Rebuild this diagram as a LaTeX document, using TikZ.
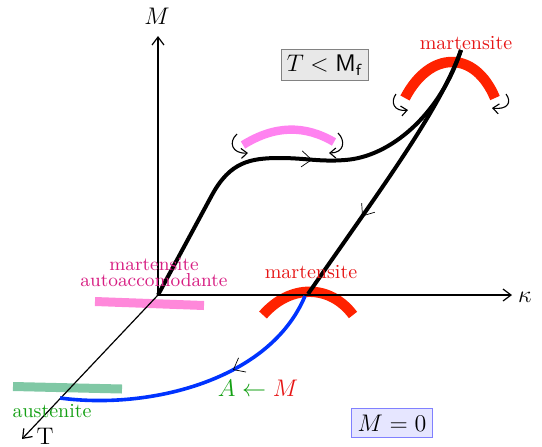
\documentclass[tikz,border=0pt]{standalone}
\usetikzlibrary{arrows.meta,decorations.markings}
\definecolor{pinkbar}{RGB}{255,136,218}
\definecolor{pinkarc}{RGB}{255,130,240}
\definecolor{magtext}{RGB}{215,30,130}
\definecolor{redarc}{RGB}{255,34,0}
\definecolor{redtext}{RGB}{230,20,20}
\definecolor{greenbar}{RGB}{128,200,165}
\definecolor{greentext}{RGB}{20,160,20}
\definecolor{bluecurve}{RGB}{0,51,255}
\definecolor{grayfill}{RGB}{232,232,232}
\definecolor{grayline}{RGB}{130,130,130}
\definecolor{lavfill}{RGB}{230,230,255}
\definecolor{lavline}{RGB}{128,128,255}
\tikzset{
  axis/.style={line width=0.6pt,-{Straight Barb[length=4pt,width=6pt]}},
  midmark/.style={postaction={decorate},decoration={markings,
     mark=at position #1 with {\draw[line width=0.35pt,black,solid] (-5pt,4pt) -- (0,0) -- (-5pt,-4pt);}}},
  main/.style={line width=2pt,black},
  turn/.style={line width=0.55pt,-{Straight Barb[length=3pt,width=5pt]}},
  lbl/.style={inner sep=0pt},
}
\begin{document}
\begin{tikzpicture}[x=0.5pt,y=-0.5pt]
\useasboundingbox (0,0) rectangle (542,446);
% coordinates
\coordinate (O) at (158,295);
\coordinate (Mtop) at (158,36);
\coordinate (Kend) at (512,295);
\coordinate (Tend) at (22,439);
\coordinate (peak) at (461,50);
\coordinate (low) at (308,294);
\coordinate (aust) at (60,398);
% bars
\draw[pinkbar,line width=4.5pt] (95,301.5) -- (204,305.5);
\draw[greenbar,line width=4.5pt] (13,386.5) -- (122,389);
% arcs
\draw[pinkarc,line width=4.2pt] (243,145) .. controls (275,125) and (305,125) .. (334,142);
\draw[redarc,line width=5.2pt] (405,98) .. controls (430,50) and (475,50) .. (495,98);
\draw[redarc,line width=5.2pt] (263,315) .. controls (290,284) and (330,284) .. (353,315);
% axes
\draw[axis] (O) -- (Mtop);
\draw[axis] (O) -- (Kend);
\draw[axis] (O) -- (Tend);
% main curves
\draw[main,midmark=0.53] (O) -- (212,195) .. controls (230,162) and (250,158) .. (280,158)
   .. controls (305,158) and (320,162) .. (345,160)
   .. controls (390,157) and (440,115) .. (peak);
\draw[main,midmark=0.67] (peak) .. controls (440,110) and (380,190) .. (low);
\draw[bluecurve,line width=1.8pt,midmark=0.37] (305,296) .. controls (270,380) and (150,410) .. (aust);
% turning arrows
\draw[turn] (237,134) .. controls (228,142) and (232,154) .. (248,153);
\draw[turn] (338,133) .. controls (346,141) and (344,153) .. (329,153);
\draw[turn] (396,94) .. controls (390,102) and (394,112) .. (408,110);
\draw[turn] (506,94) .. controls (512,102) and (508,110) .. (492,108);
% labels
\node[lbl] (lM) at (157,16) {\large$M$};
\node[lbl] (lK) at (525,297) {\large$\kappa$};
\node[lbl] (lT) at (45,436) {\large T};
\node[lbl,text=redtext] (mtop) at (466,43) {martensite};
\node[lbl,text=redtext] (mlow) at (311,272) {martensite};
\node[lbl,text=magtext,align=center,font=\fontsize{9.4}{8}\selectfont] (mauto) at (154,272) {martensite\\autoaccomodante};
\node[lbl,text=greentext] (laust) at (52,411) {austenite};
\node[lbl] (AM) at (258,388) {\large$\color{greentext}A\leftarrow\color{redtext}M$};
\node[draw=grayline,fill=grayfill,line width=0.5pt,inner sep=2.5pt] (box1) at (325,65) {\large$T<\mathsf{M}_\mathsf{f}$};
\node[draw=lavline,fill=lavfill,line width=0.5pt,inner sep=3pt] (box2) at (392,423) {\large$M=0$};
\end{tikzpicture}
\end{document}
